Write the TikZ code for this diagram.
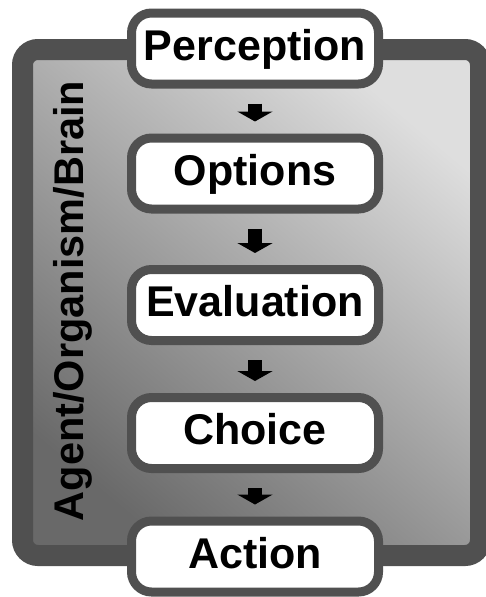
\documentclass[tikz,border=0pt]{standalone}
\usepackage{fontspec}
\setmainfont{Liberation Sans}
\usetikzlibrary{arrows.meta}

\definecolor{framegray}{RGB}{80,80,80}
\definecolor{lightfill}{RGB}{222,222,222}
\definecolor{darkfill}{RGB}{105,105,105}

\tikzset{
  stage/.style={minimum width=247pt, minimum height=71pt, text width=240pt, align=center,
    line width=9pt, draw=framegray, fill=white, rounded corners=20pt, inner sep=0pt,
    text height=31pt, text depth=8pt, font=\fontsize{43}{50}\selectfont\bfseries},
  flow/.style={line width=14pt, -{Triangle[width=35pt,length=10pt]},
    shorten <=15pt, shorten >=12pt}
}

\begin{document}
\begin{tikzpicture}[x=1pt, y=-1pt]

\useasboundingbox (0,0) rectangle (485,597);

% agent frame
\draw[line width=21pt, draw=framegray, rounded corners=15.5pt, top color=lightfill, bottom color=darkfill, shading angle=-40] (22.5,49.5) rectangle (480.5,555.5);
\node[rotate=90, inner sep=0pt, font=\fontsize{41.5}{49}\selectfont\bfseries] (agent) at (73, 301) {Agent/Organism/Brain};

\node (perception) [stage] at (255, 48.5) {Perception};
\node (options) [stage] at (255, 173.5) {Options};
\node (evaluation) [stage] at (255, 305) {Evaluation};
\node (choice) [stage] at (255, 433) {Choice};
\node (action) [stage] at (255, 556.5) {Action};

\draw[flow] (perception) -- (options);
\draw[flow] (options) -- (evaluation);
\draw[flow] (evaluation) -- (choice);
\draw[flow] (choice) -- (action);

\end{tikzpicture}
\end{document}
